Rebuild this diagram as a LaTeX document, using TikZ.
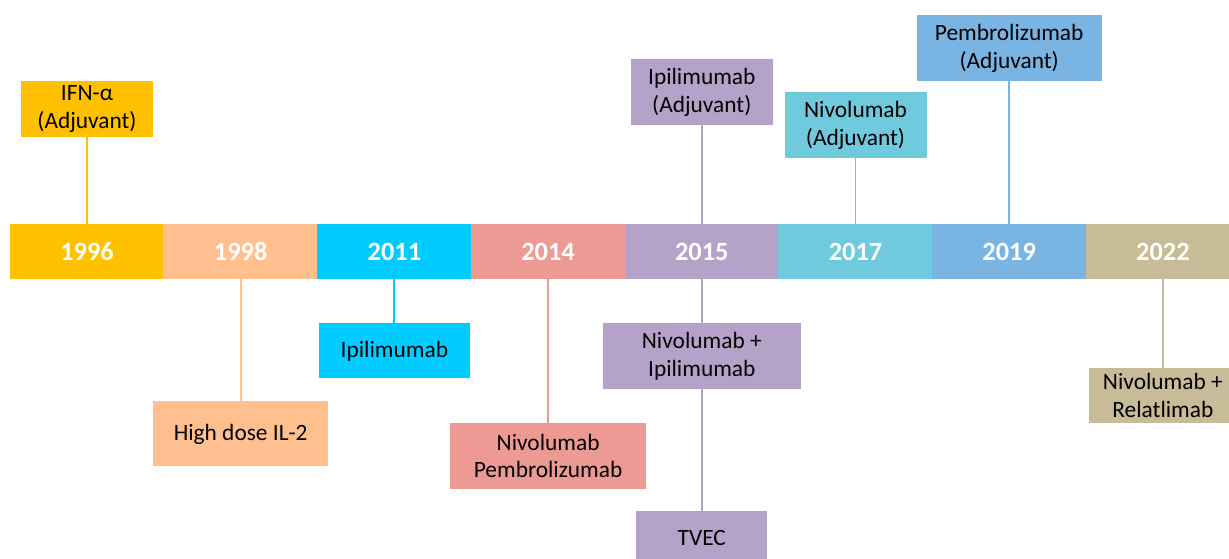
\documentclass[tikz,border=0pt]{standalone}
\usepackage{fontspec}
\setmainfont{Carlito}
\definecolor{cA}{HTML}{FFC000}
\definecolor{cB}{HTML}{FFBF8F}
\definecolor{cC}{HTML}{00CCFF}
\definecolor{cD}{HTML}{EE9A94}
\definecolor{cE}{HTML}{B4A2C8}
\definecolor{cF}{HTML}{70CADD}
\definecolor{cG}{HTML}{7AB4E3}
\definecolor{cH}{HTML}{C8BB97}
\begin{document}
\begin{tikzpicture}[x=2cm,y=2cm,
year/.style={fill=#1, text=white, font=\fontsize{15}{18}\selectfont\bfseries,
  minimum width=3.09cm, minimum height=1.1cm, inner sep=0pt},
drug/.style={fill=#1, align=center, font=\fontsize{13.3}{15.9}\selectfont,
  inner sep=0pt},
link/.style={draw=#1, line width=1.1pt}]
\useasboundingbox (0,0) rectangle (12.29,5.59);
% timeline bar
\node[year=cA] (y1996) at (0.870,3.075) {1996};
\node[year=cB] (y1998) at (2.407,3.075) {1998};
\node[year=cC] (y2011) at (3.944,3.075) {2011};
\node[year=cD] (y2014) at (5.481,3.075) {2014};
\node[year=cE] (y2015) at (7.018,3.075) {2015};
\node[year=cF] (y2017) at (8.555,3.075) {2017};
\node[year=cG] (y2019) at (10.092,3.075) {2019};
\node[year=cH] (y2022) at (11.629,3.075) {2022};
% approvals
\node[drug=cA, minimum width=2.64cm, minimum height=1.12cm] (ifn) at (0.870,4.50) {IFN-α\\(Adjuvant)};
\node[drug=cB, minimum width=3.50cm, minimum height=1.30cm] (il2) at (2.407,1.25) {High dose IL-2};
\node[drug=cC, minimum width=3.02cm, minimum height=1.10cm] (ipi) at (3.944,2.08) {Ipilimumab};
\node[drug=cD, minimum width=3.92cm, minimum height=1.32cm] (nivopem) at (5.481,1.03) {Nivolumab\\Pembrolizumab};
\node[drug=cE, minimum width=2.84cm, minimum height=1.32cm] (ipiadj) at (7.018,4.67) {Ipilimumab\\(Adjuvant)};
\node[drug=cE, minimum width=3.96cm, minimum height=1.32cm] (nivoipi) at (7.018,2.03) {Nivolumab +\\Ipilimumab};
\node[drug=cE, minimum width=2.62cm, minimum height=1.10cm] (tvec) at (7.018,0.205) {TVEC};
\node[drug=cF, minimum width=2.84cm, minimum height=1.32cm] (nivoadj) at (8.555,4.34) {Nivolumab\\(Adjuvant)};
\node[drug=cG, minimum width=3.70cm, minimum height=1.32cm] (pemadj) at (10.092,5.11) {Pembrolizumab\\(Adjuvant)};
\node[drug=cH, minimum width=2.96cm, minimum height=1.10cm] (nivorel) at (11.629,1.635) {Nivolumab +\\Relatlimab};
% connectors
\draw[link=cA] (ifn) -- (y1996);
\draw[link=cB] (y1998) -- (il2);
\draw[link=cC] (y2011) -- (ipi);
\draw[link=cD] (y2014) -- (nivopem);
\draw[link=cE] (ipiadj) -- (y2015);
\draw[link=cE] (y2015) -- (nivoipi);
\draw[link=cE] (nivoipi) -- (tvec);
\draw[link=cF] (nivoadj) -- (y2017);
\draw[link=cG] (pemadj) -- (y2019);
\draw[link=cH] (y2022) -- (nivorel);
\end{tikzpicture}
\end{document}
